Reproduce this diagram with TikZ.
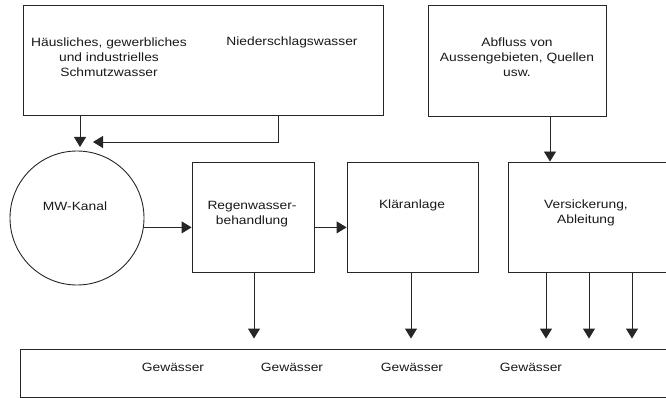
\documentclass[tikz,border=0pt]{standalone}
\usepackage{fontspec}
\setmainfont{Liberation Sans}[FakeStretch=1.15]
\usetikzlibrary{arrows.meta, calc}

\tikzset{
	kasten/.style={draw=black!85, line width=0.9pt, minimum width=#1, inner sep=0pt},
	pfeil/.style={draw=black!85, line width=0.9pt, -{Triangle[width=12pt,length=10pt]}},
	beschr/.style={text=black!90, align=center, font=\fontsize{12}{15}\selectfont, inner sep=0pt}
}

\begin{document}
\begin{tikzpicture}[x=1pt, y=-1pt]
	\useasboundingbox (0,0) rectangle (666,398);
	\clip (0,0) rectangle (666,398);

	% Zufluesse
	\node[kasten=360pt, minimum height=110pt] (quellen) at (203,60) {};
	\node[kasten=178pt, minimum height=111pt] (abfluss) at (517,60.5) {};
	\node[beschr] (schmutz) at (109,57) {Häusliches, gewerbliches\\und industrielles\\Schmutzwasser};
	\node[beschr] (nieder) at (292,42) {Niederschlagswasser};
	\node[beschr] (aussen) at (517,57) {Abfluss von\\Aussengebieten, Quellen\\usw.};

	% Kanal und Anlagen
	\node[draw=black!85, line width=0.9pt, circle, minimum size=134pt, inner sep=0pt] (kanal) at (77,218) {};
	\node[kasten=122pt, minimum height=110pt] (regen) at (253,217) {};
	\node[kasten=131pt, minimum height=110pt] (klaer) at (412.5,217) {};
	\node[kasten=200pt, minimum height=110pt] (versick) at (608,217) {};
	\node[beschr] at (75,206) {MW-Kanal};
	\node[beschr] at (252,214) {Regenwasser-\\behandlung};
	\node[beschr] at (412,205) {Kläranlage};
	\node[beschr] at (586,213) {Versickerung,\\Ableitung};

	% Gewaesser
	\node[kasten=690pt, minimum height=48pt] (gewaesser) at (365,373) {};
	\foreach \x in {173,292,412,531}
		\node[beschr] at (\x,367) {Gewässer};

	% Pfeile
	\coordinate (zulauf1) at (80,147);
	\coordinate (zulauf2) at (93,142);
	\draw[pfeil] (quellen.south -| zulauf1) -- (zulauf1);
	\draw[pfeil] (quellen.south -| 278,0) |- (zulauf2);
	\draw[pfeil] (kanal.-8) -- (regen.west |- kanal.-8);
	\draw[pfeil] (regen.east |- kanal.-8) -- (klaer.west |- kanal.-8);
	\draw[pfeil] (abfluss.south -| 550,0) -- (versick.north -| 550,0);
	\foreach \x/\von in {254/regen, 411/klaer, 546/versick, 589/versick, 632/versick}
		\draw[pfeil, shorten >=10pt] (\von.south -| \x,0) -- (gewaesser.north -| \x,0);
\end{tikzpicture}
\end{document}
